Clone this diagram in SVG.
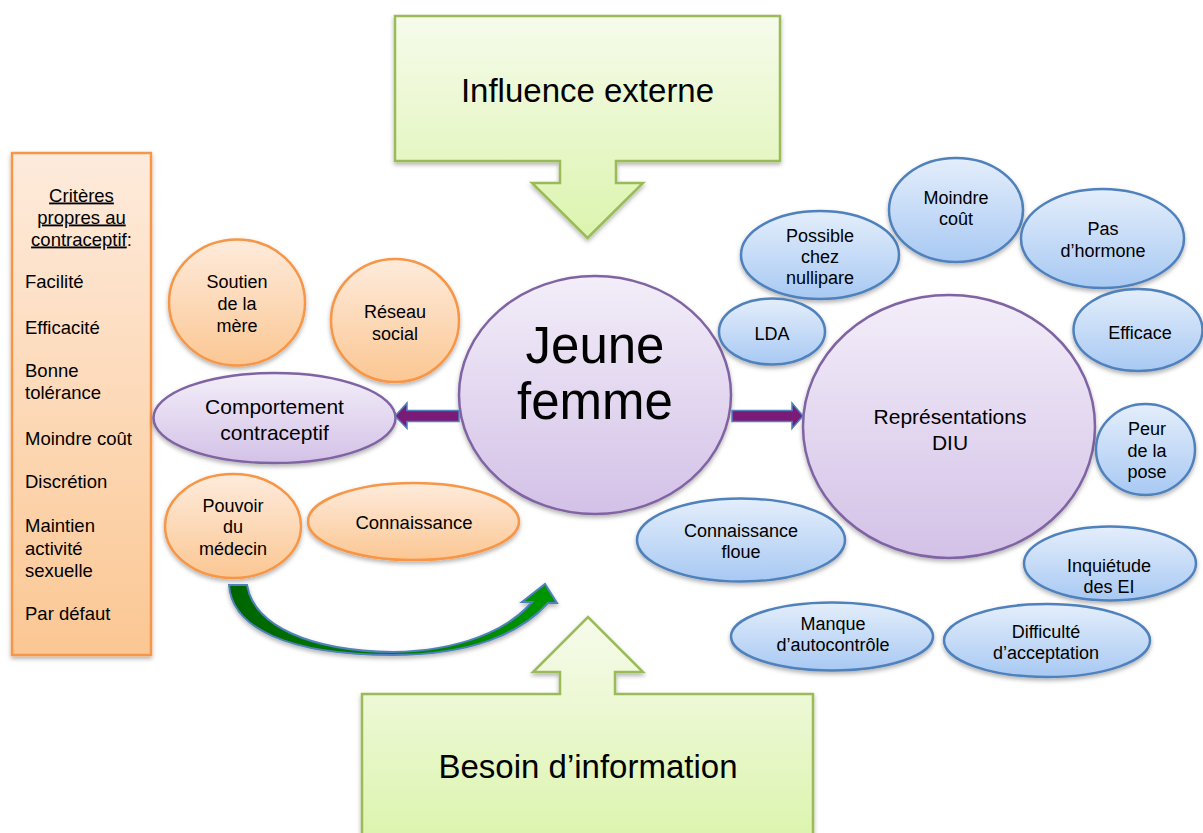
<svg xmlns="http://www.w3.org/2000/svg" width="1203" height="833" viewBox="0 0 1203 833">
<style>
.org{fill:url(#gOrg);stroke:#f79646;stroke-width:2.5}
.pur{fill:url(#gPur);stroke:#8064a2;stroke-width:2.5}
.blu{fill:url(#gBlu);stroke:#4f81bd;stroke-width:2.5}
.grn{fill:url(#gGrn);stroke:#9bbb59;stroke-width:2.5}
.sh{filter:url(#sh)}
text{font-family:"Liberation Sans",Arial,Helvetica,sans-serif;fill:#000;text-anchor:middle}
.s18{font-size:18px}
.s185{font-size:18.5px}
.s21{font-size:21px}
.s33{font-size:33px}
.s51{font-size:51px}
.lft{text-anchor:start}
.u{text-decoration:underline}
.parr{fill:#7a1b78;stroke:#4f81bd;stroke-width:1.5}
.garr{fill:url(#gArr);stroke:#4f81bd;stroke-width:2}
</style>
<defs>
<linearGradient id="gOrg" x1="0" y1="0" x2="0" y2="1"><stop offset="0" stop-color="#feebdc"/><stop offset="1" stop-color="#fbc793"/></linearGradient>
<linearGradient id="gPur" x1="0" y1="0" x2="0" y2="1"><stop offset="0" stop-color="#f3eef9"/><stop offset="1" stop-color="#d3c1e7"/></linearGradient>
<linearGradient id="gBlu" x1="0" y1="0" x2="0" y2="1"><stop offset="0" stop-color="#e4eefb"/><stop offset="1" stop-color="#a8c9f3"/></linearGradient>
<linearGradient id="gGrn" x1="0" y1="0" x2="0" y2="1"><stop offset="0" stop-color="#f6fbeb"/><stop offset="1" stop-color="#dcf4ae"/></linearGradient>
<linearGradient id="gArr" x1="0" y1="0" x2="1" y2="0"><stop offset="0" stop-color="#006400"/><stop offset="1" stop-color="#009600"/></linearGradient>
<filter id="sh" x="-10%" y="-10%" width="120%" height="130%"><feDropShadow dx="0" dy="2.5" stdDeviation="2" flood-color="#000" flood-opacity="0.3"/></filter>
</defs>

<rect width="1203" height="833" fill="#fff"/>

<g id="criteres">
<rect class="org sh" x="12" y="153" width="139" height="502"/>
<text class="s185" x="81.5" y="201.5"><tspan class="u">Critères</tspan></text>
<text class="s185" x="81.5" y="223.5"><tspan class="u">propres au</tspan></text>
<text class="s185" x="81.5" y="245.5"><tspan class="u">contraceptif</tspan>:</text>
<text class="s185 lft" x="25" y="288">Facilité</text>
<text class="s185 lft" x="25" y="334">Efficacité</text>
<text class="s185 lft" x="25" y="377">Bonne</text>
<text class="s185 lft" x="25" y="399">tolérance</text>
<text class="s185 lft" x="25" y="445">Moindre coût</text>
<text class="s185 lft" x="25" y="488">Discrétion</text>
<text class="s185 lft" x="25" y="532">Maintien</text>
<text class="s185 lft" x="25" y="555">activité</text>
<text class="s185 lft" x="25" y="577">sexuelle</text>
<text class="s185 lft" x="25" y="620">Par défaut</text>
</g>

<g id="influence-externe">
<path class="grn sh" d="M395,16 H780 V161 H616 V183 H643 L587.5,238 L532,183 H560 V161 H395 Z"/>
<text class="s33" x="587.5" y="101.5">Influence externe</text>
</g>

<g id="besoin-information">
<path class="grn sh" d="M362,694 H560 V672 H533 L588,617 L643,672 H615 V694 H813 V840 H362 Z"/>
<text class="s33" x="588" y="778">Besoin d’information</text>
</g>

<g id="soutien-mere">
<ellipse class="org sh" cx="237" cy="302.5" rx="68" ry="63"/>
<text class="s18" x="237" y="288">Soutien</text>
<text class="s18" x="237" y="310">de la</text>
<text class="s18" x="237" y="332">mère</text>
</g>

<g id="reseau-social">
<ellipse class="org sh" cx="395" cy="320.5" rx="64" ry="61.5"/>
<text class="s18" x="395" y="318">Réseau</text>
<text class="s18" x="395" y="340">social</text>
</g>

<g id="comportement">
<ellipse class="pur sh" cx="274.5" cy="418" rx="121" ry="45"/>
<text class="s21" x="274.5" y="414">Comportement</text>
<text class="s21" x="274.5" y="440">contraceptif</text>
</g>

<g id="pouvoir-medecin">
<ellipse class="org sh" cx="233" cy="526" rx="68" ry="52"/>
<text class="s18" x="233" y="511.5">Pouvoir</text>
<text class="s18" x="233" y="533">du</text>
<text class="s18" x="233" y="555">médecin</text>
</g>

<g id="connaissance">
<ellipse class="org sh" cx="413.5" cy="521.5" rx="105.5" ry="38.5"/>
<text class="s185" x="414" y="529">Connaissance</text>
</g>

<g id="jeune-femme">
<ellipse class="pur sh" cx="595" cy="395" rx="136" ry="119"/>
<text class="s51" x="595" y="363">Jeune</text>
<text class="s51" x="595" y="419">femme</text>
</g>

<g id="representations-diu">
<ellipse class="pur sh" cx="949" cy="426.5" rx="146" ry="131.5"/>
<text class="s21" x="950" y="423.5">Représentations</text>
<text class="s21" x="950" y="450">DIU</text>
</g>

<g id="possible-nullipare">
<ellipse class="blu sh" cx="820" cy="255" rx="79" ry="44"/>
<text class="s18" x="820" y="241.5">Possible</text>
<text class="s18" x="820" y="262.5">chez</text>
<text class="s18" x="820" y="283.5">nullipare</text>
</g>

<g id="moindre-cout">
<ellipse class="blu sh" cx="956" cy="210" rx="67" ry="52"/>
<text class="s18" x="956" y="203.5">Moindre</text>
<text class="s18" x="956" y="225">coût</text>
</g>

<g id="pas-hormone">
<ellipse class="blu sh" cx="1102.5" cy="238.5" rx="81.5" ry="49.5"/>
<text class="s18" x="1103" y="235">Pas</text>
<text class="s18" x="1103" y="256.5">d’hormone</text>
</g>

<g id="lda">
<ellipse class="blu sh" cx="772" cy="331.5" rx="53" ry="33"/>
<text class="s18" x="772" y="340">LDA</text>
</g>

<g id="efficace">
<ellipse class="blu sh" cx="1138" cy="330" rx="64.5" ry="41"/>
<text class="s18" x="1140" y="338.5">Efficace</text>
</g>

<g id="peur-pose">
<ellipse class="blu sh" cx="1145.5" cy="449.5" rx="49.5" ry="45.5"/>
<text class="s18" x="1147" y="435">Peur</text>
<text class="s18" x="1147" y="456.5">de la</text>
<text class="s18" x="1147" y="478">pose</text>
</g>

<g id="connaissance-floue">
<ellipse class="blu sh" cx="741" cy="540" rx="104" ry="41.5"/>
<text class="s18" x="741" y="536.5">Connaissance</text>
<text class="s18" x="741" y="557.5">floue</text>
</g>

<g id="inquietude-ei">
<ellipse class="blu sh" cx="1110" cy="563.5" rx="86" ry="37"/>
<text class="s18" x="1109" y="571.5">Inquiétude</text>
<text class="s18" x="1109" y="593">des EI</text>
</g>

<g id="manque-autocontrole">
<ellipse class="blu sh" cx="832" cy="636.5" rx="101" ry="34"/>
<text class="s18" x="833" y="629.5">Manque</text>
<text class="s18" x="833" y="650.5">d’autocontrôle</text>
</g>

<g id="difficulte-acceptation">
<ellipse class="blu sh" cx="1047" cy="640.5" rx="103" ry="36.5"/>
<text class="s18" x="1046" y="637.5">Difficulté</text>
<text class="s18" x="1046" y="659">d’acceptation</text>
</g>

<g id="connectors">
<path class="parr" d="M459,410.5 H407 V403 L395,416 L407,428.5 V421.5 H459 Z"/>
<path class="parr" d="M732,410.5 H792 V403 L803,416 L792,428.5 V421.5 H732 Z"/>
<path class="garr sh" d="M229,585 C232,628 288,655 393,655 C470,655 520,634 548,603 L557,603 L545,584 L522,602 L532,602 C508,630 460,651 393,652 C310,651 254,626 247,585 Z"/>
</g>
</svg>
